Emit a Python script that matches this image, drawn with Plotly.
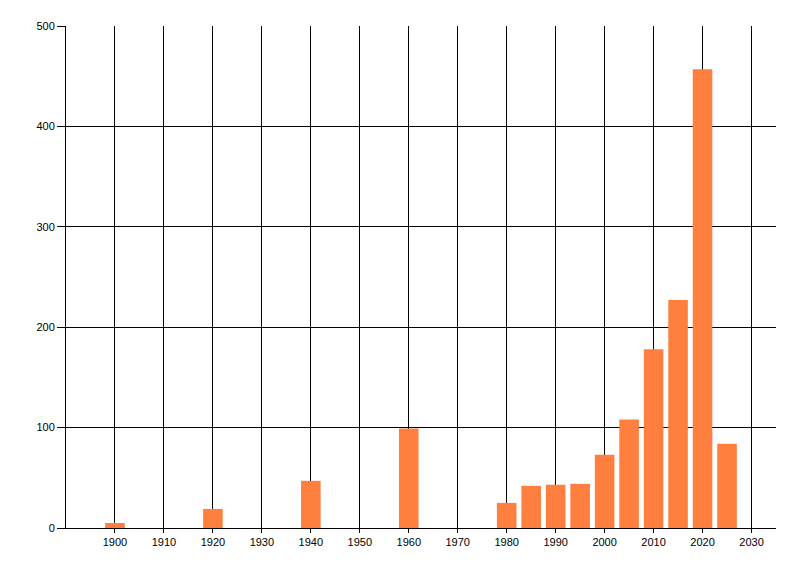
import plotly.graph_objects as go

years = [1900, 1920, 1940, 1960, 1980, 1985, 1990, 1995, 2000, 2005, 2010, 2015, 2020, 2025]
counts = [5, 19, 47, 99, 25, 42, 43, 44, 73, 108, 178, 227, 457, 84]

x_ticks = list(range(1900, 2031, 10))
y_ticks = [0, 100, 200, 300, 400, 500]

fig = go.Figure()
fig.add_trace(go.Bar(
    x=years,
    y=counts,
    width=4,
    marker=dict(color="#FF7F3F", line=dict(width=0)),
    showlegend=False,
))

# page body has an 8px margin, so the figure is a bit smaller and shifted
fig.update_layout(
    width=792,
    height=568,
    margin=dict(l=58, r=24, t=18, b=48),
    paper_bgcolor="white",
    plot_bgcolor="white",
    font=dict(family="Liberation Sans, Arial, sans-serif", size=11, color="black"),
)

fig.update_xaxes(
    range=[1890, 2035],
    tickvals=x_ticks,
    ticktext=[str(t) for t in x_ticks],
    showgrid=True,
    gridcolor="black",
    gridwidth=1,
    showline=True,
    linecolor="black",
    linewidth=1,
    ticks="outside",
    ticklen=4,
    tickcolor="black",
    zeroline=False,
)
fig.update_yaxes(
    range=[0, 500],
    tickvals=y_ticks,
    showgrid=True,
    gridcolor="black",
    gridwidth=1,
    showline=True,
    linecolor="black",
    linewidth=1,
    ticks="outside",
    ticklen=8,
    tickcolor="black",
    zeroline=False,
)

fig.write_html("out.html")
